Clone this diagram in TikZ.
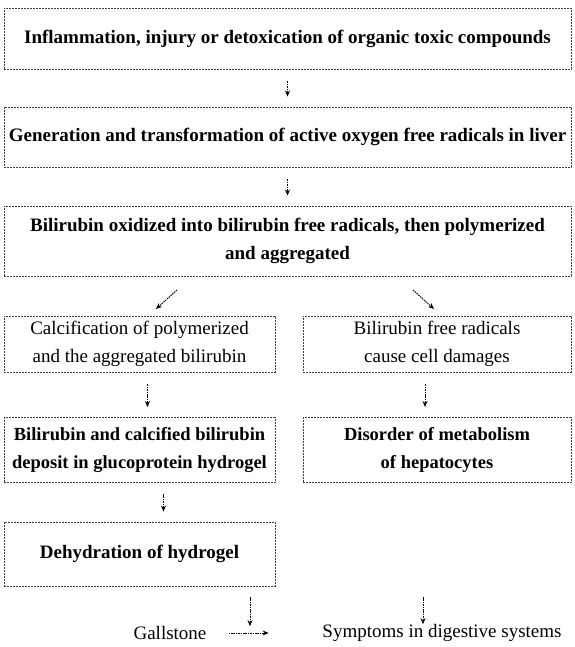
\documentclass[tikz,border=0pt]{standalone}
\usepackage{fontspec}
\setmainfont{Liberation Serif}
\usetikzlibrary{arrows.meta,calc}
\begin{document}
\begin{tikzpicture}[x=1pt,y=-1pt,
  box/.style={draw=black!75, dash pattern=on 2pt off 1pt, line width=0.9pt,
    inner sep=0pt, align=center, font=\fontsize{19}{28}\selectfont},
  arr/.style={-{Stealth[length=6pt,width=5pt]}, line width=0.9pt,
    dash pattern=on 1.6pt off 0.8pt},
  lbl/.style={inner sep=0pt, font=\fontsize{19}{22}\selectfont}]
\useasboundingbox (0,0) rectangle (574,647);
\node[box, minimum width=567, minimum height=61] (b1) at (287.5,38.5)
  {\bfseries Inflammation, injury or detoxication of organic toxic compounds};
\node[box, minimum width=567, minimum height=60] (b2) at (287.5,137)
  {\bfseries Generation and transformation of active oxygen free radicals in liver};
\node[box, minimum width=567, minimum height=70] (b3) at (287.5,241)
  {\bfseries Bilirubin oxidized into bilirubin free radicals, then polymerized\\ \bfseries and aggregated};
\node[box, minimum width=271, minimum height=56] (b4) at (139.5,344)
  {Calcification of polymerized\\ and the aggregated bilirubin};
\node[box, minimum width=268, minimum height=56] (b5) at (437,344)
  {Bilirubin free radicals\\ cause cell damages};
\node[box, minimum width=271, minimum height=65, font=\fontsize{18.5}{28}\selectfont\bfseries] (b6) at (139.5,450)
  {Bilirubin and calcified bilirubin\\ deposit in glucoprotein hydrogel};
\node[box, minimum width=268, minimum height=65, font=\fontsize{18.5}{28}\selectfont\bfseries] (b7) at (437,450)
  {Disorder of metabolism\\ of hepatocytes};
\node[box, minimum width=271, minimum height=64] (b8) at (139.5,554)
  {\bfseries Dehydration of hydrogel};
\node[lbl] (gall) at (170,633) {Gallstone};
\node[lbl] (symp) at (442,633) {Symptoms in digestive systems};
% connectors
\draw[arr] ($(b1.south)+(0,12)$) -- ($(b2.north)+(0,-10)$);
\draw[arr] ($(b2.south)+(0,12)$) -- ($(b3.north)+(0,-10)$);
\coordinate (d1s) at (177,290);
\coordinate (d1e) at (156,309);
\coordinate (d2s) at (413,290);
\coordinate (d2e) at (434,309);
\draw[arr] (d1s) -- (d1e);
\draw[arr] (d2s) -- (d2e);
\draw[arr] ($(b4.south)+(8,12)$) -- ($(b6.north)+(8,-10)$);
\draw[arr] ($(b5.south)+(-12,12)$) -- ($(b7.north)+(-12,-10)$);
\draw[arr] ($(b6.south)+(24,11)$) -- ($(b8.north)+(24,-10)$);
\coordinate (g1s) at (250,597);
\coordinate (g2s) at (423,597);
\draw[arr] (g1s) -- (g1s |- gall.north);
\draw[arr] (g2s) -- (g2s |- symp.north);
\draw[arr] ($(gall.east)+(22,0)$) -- ($(gall.east)+(62,0)$);
\end{tikzpicture}
\end{document}
